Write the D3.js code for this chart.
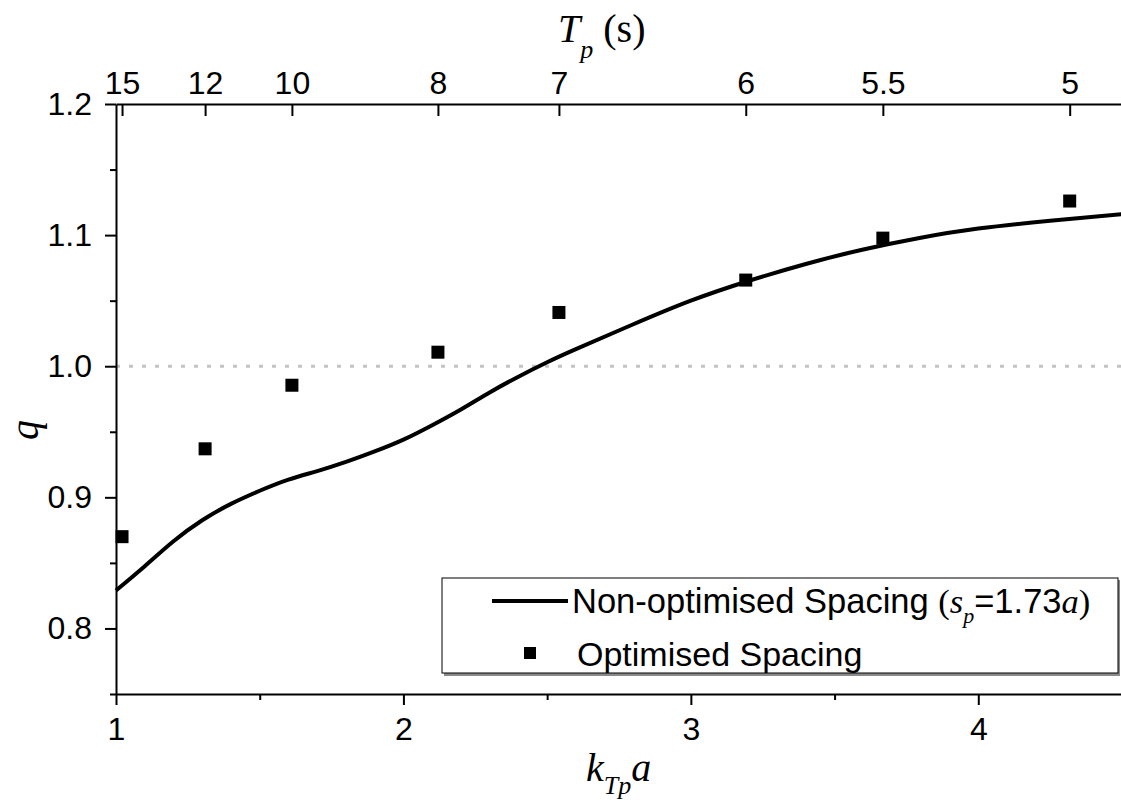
<!DOCTYPE html>
<html>
<head>
<meta charset="utf-8">
<script src="https://cdn.jsdelivr.net/npm/d3@7"></script>
<style>
  body { margin: 0; background: #fff; }
  .tick text { font-family: "Liberation Sans", Arial, sans-serif; font-size: 32px; fill: #000; }
  .domain, .tick line { stroke: #000; stroke-width: 2px; }
</style>
</head>
<body>
<div id="chart"></div>
<script>
// non-optimised spacing curve (k_Tp a, q)
var curveKa = [1.0, 1.1, 1.2, 1.3, 1.4, 1.5, 1.6, 1.7, 1.8, 1.9, 2.0, 2.1, 2.2, 2.3, 2.4, 2.5, 2.6, 2.8, 3.0, 3.2, 3.4, 3.6, 3.8, 4.0, 4.25, 4.5];
var curveQ  = [0.829, 0.8475, 0.8665, 0.8825, 0.895, 0.905, 0.9135, 0.920, 0.927, 0.935, 0.944, 0.955, 0.967, 0.980, 0.992, 1.003, 1.013, 1.032, 1.050, 1.065, 1.078, 1.089, 1.098, 1.105, 1.111, 1.116];

// optimised spacing, one point per peak period
var tpValues = [15, 12, 10, 8, 7, 6, 5.5, 5];
var tpKa     = [1.021, 1.31, 1.612, 2.12, 2.541, 3.191, 3.668, 4.318];
var optQ     = [0.870, 0.937, 0.9855, 1.0107, 1.041, 1.0657, 1.0977, 1.126];

var bottomTicks = [1, 2, 3, 4];
var bottomMinor = [1.5, 2.5, 3.5];
var leftTicks = [0.8, 0.9, 1.0, 1.1, 1.2];
var leftMinor = [0.75, 0.85, 0.95, 1.05, 1.15];

var svgWidth = 1121, svgHeight = 805;
var margin = { top: 104, left: 116, bottom: 111, right: -1 };

var svg = d3.select("#chart").append("svg")
  .attr("width", svgWidth)
  .attr("height", svgHeight);

var x = d3.scaleLinear().domain([1, 4.5]).range([margin.left, svgWidth - margin.right]);
var y = d3.scaleLinear().domain([0.75, 1.2]).range([svgHeight - margin.bottom, margin.top]);

// reference line q = 1
svg.append("line")
  .attr("x1", x(1)).attr("x2", x(4.5))
  .attr("y1", y(1)).attr("y2", y(1))
  .attr("stroke", "#c4c4c4")
  .attr("stroke-width", 3)
  .attr("stroke-dasharray", "4,9");

// axes
svg.append("g").attr("transform", "translate(" + x(1) + ",0)")
  .call(d3.axisLeft(y).tickValues(leftTicks).tickFormat(d3.format(".1f")).tickSize(11).tickPadding(13).tickSizeOuter(0));
svg.append("g").attr("transform", "translate(" + x(1) + ",0)")
  .call(d3.axisLeft(y).tickValues(leftMinor).tickFormat("").tickSize(6).tickSizeOuter(0))
  .select(".domain").remove();

svg.append("g").attr("transform", "translate(0," + y(0.75) + ")")
  .call(d3.axisBottom(x).tickValues(bottomTicks).tickFormat(d3.format("d")).tickSize(11).tickPadding(12).tickSizeOuter(0));
svg.append("g").attr("transform", "translate(0," + y(0.75) + ")")
  .call(d3.axisBottom(x).tickValues(bottomMinor).tickFormat("").tickSize(6).tickSizeOuter(0))
  .select(".domain").remove();

svg.append("g").attr("transform", "translate(0," + y(1.2) + ")")
  .call(d3.axisTop(x).tickValues(tpKa).tickFormat(function(d, i) { return tpValues[i]; })
    .tickSizeInner(-12).tickSizeOuter(0).tickPadding(10));

svg.selectAll(".tick text").attr("font-family", null).attr("font-size", null);

// curve
var line = d3.line()
  .x(function(d, i) { return x(curveKa[i]); })
  .y(function(d) { return y(d); })
  .curve(d3.curveNatural);

svg.append("path")
  .datum(curveQ)
  .attr("d", line)
  .attr("fill", "none")
  .attr("stroke", "#000")
  .attr("stroke-width", 4);

// optimised points
var sq = 13;
svg.selectAll(".pt")
  .data(optQ)
  .enter().append("rect")
  .attr("class", "pt")
  .attr("x", function(d, i) { return x(tpKa[i]) - sq / 2; })
  .attr("y", function(d) { return y(d) - sq / 2; })
  .attr("width", sq).attr("height", sq)
  .attr("fill", "#000");

// legend
var lg = svg.append("g");
lg.append("rect").attr("x", 444).attr("y", 580).attr("width", 676).attr("height", 96).attr("fill", "#8a8a8a");
lg.append("rect").attr("x", 442).attr("y", 578).attr("width", 676).attr("height", 95)
  .attr("fill", "#fff").attr("stroke", "#000").attr("stroke-width", 1);
lg.append("line").attr("x1", 492).attr("x2", 568).attr("y1", 601).attr("y2", 601)
  .attr("stroke", "#000").attr("stroke-width", 4);
lg.append("rect").attr("x", 530 - 6).attr("y", 653 - 6).attr("width", 12).attr("height", 12).attr("fill", "#000");

var serif = "'Liberation Serif', 'Times New Roman', serif";

var t1 = lg.append("text").attr("x", 572).attr("y", 613)
  .style("font-family", "'Liberation Sans', Arial, sans-serif").style("font-size", "34.5px");
t1.append("tspan").text("Non-optimised Spacing ");
t1.append("tspan").style("font-family", serif).text("(");
t1.append("tspan").style("font-family", serif).style("font-style", "italic").text("s");
t1.append("tspan").style("font-family", serif).style("font-style", "italic").style("font-size", "22px").attr("dy", 10).text("p");
t1.append("tspan").attr("dy", -10).text("=1.73");
t1.append("tspan").style("font-family", serif).style("font-style", "italic").text("a");
t1.append("tspan").style("font-family", serif).text(")");

lg.append("text").attr("x", 577).attr("y", 666)
  .style("font-family", "'Liberation Sans', Arial, sans-serif").style("font-size", "34px")
  .text("Optimised Spacing");

// axis titles
var tt = svg.append("text").attr("x", 558).attr("y", 42)
  .style("font-family", serif).style("font-size", "40px");
tt.append("tspan").style("font-style", "italic").text("T");
tt.append("tspan").style("font-style", "italic").style("font-size", "26px").attr("dy", 16).text("p");
tt.append("tspan").attr("dy", -16).text(" (s)");

var bt = svg.append("text").attr("x", 586).attr("y", 781)
  .style("font-family", serif).style("font-size", "40px").style("font-style", "italic");
bt.append("tspan").text("k");
bt.append("tspan").style("font-size", "26px").attr("dy", 13).text("Tp");
bt.append("tspan").attr("dy", -13).text("a");

svg.append("text")
  .attr("transform", "translate(38," + 430 + ") rotate(-90)")
  .attr("text-anchor", "middle")
  .style("font-family", serif).style("font-size", "40px").style("font-style", "italic")
  .text("q");
</script>
</body>
</html>
